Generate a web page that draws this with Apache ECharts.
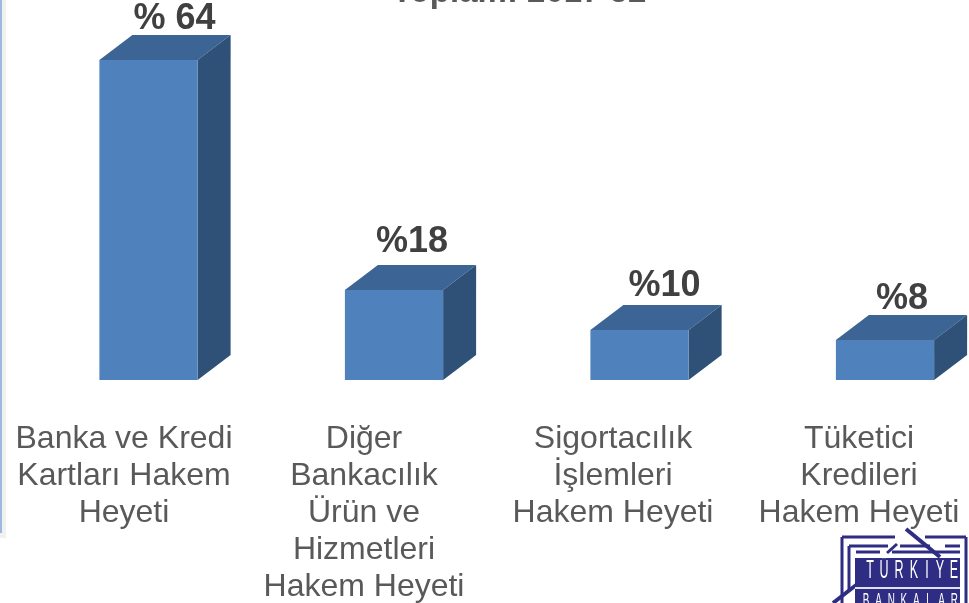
<!DOCTYPE html>
<html>
<head>
<meta charset="utf-8">
<style>html,body{margin:0;padding:0;background:#fff;overflow:hidden}#c{width:969px;height:603px}</style>
<script src="https://cdn.jsdelivr.net/npm/echarts@6/dist/echarts.min.js"></script>
</head>
<body>
<div id="c"></div>
<script>
const categories = ['Banka ve Kredi\nKartları Hakem\nHeyeti', 'Diğer\nBankacılık\nÜrün ve\nHizmetleri\nHakem Heyeti', 'Sigortacılık\nİşlemleri\nHakem Heyeti', 'Tüketici\nKredileri\nHakem Heyeti'];
const shares = [64, 18, 10, 8];
const shareLabels = ['% 64', '%18', '%10', '%8'];
const titleText = 'Toplam: 2017 52';

// Layout only: offsets of each text box relative to its bar
const axisLabelShift = [24.5, 30, 26.5, 26];
const valueLabelShift = [[26, 2], [18, -5], [25, -1], [17, 2]];
const depthX = 33, depthY = 25;

const chart = echarts.init(document.getElementById('c'), null, {renderer: 'canvas'});
const navy = '#2e2d83';

function logo() {
  const line = (x1, y1, x2, y2, w) => ({type: 'line', shape: {x1, y1, x2, y2}, style: {stroke: navy, lineWidth: w}, silent: true});
  const els = [
    line(842, 537, 895, 537, 3), line(925, 537, 966, 537, 3),
    line(842, 537, 842, 603, 3), line(966, 537, 966, 603, 3),
    line(849, 546, 888, 546, 3), line(900, 546, 930, 546, 3), line(945, 546, 960, 546, 3),
    line(849, 546, 849, 590, 3),
    line(856, 552, 880, 552, 3), line(892, 552, 960, 552, 3),
    line(906, 529, 940, 557, 4), line(897, 544, 887, 553, 3),
    line(860, 582, 833, 603, 4),
    {type: 'rect', shape: {x: 855, y: 558, width: 105, height: 45}, style: {fill: navy}, silent: true},
    {type: 'rect', shape: {x: 855, y: 587, width: 105, height: 2}, style: {fill: '#dfe0f0'}, silent: true}
  ];
  const topX = [870, 884, 899, 914, 927, 940, 954];
  'TÜRKİYE'.split('').forEach((ch, i) => els.push({
    type: 'text', x: topX[i], y: 559, scaleX: 0.5, silent: true,
    style: {text: ch, fill: '#fff', font: '25px "Liberation Sans"', textAlign: 'center', textVerticalAlign: 'top'}
  }));
  'BANKALAR'.split('').forEach((ch, i) => els.push({
    type: 'text', x: 866 + i * 12.6, y: 592, scaleX: 0.55, silent: true,
    style: {text: ch, fill: '#fff', font: '18px "Liberation Sans"', textAlign: 'center', textVerticalAlign: 'top'}
  }));
  return els;
}

chart.setOption({
  animation: false,
  backgroundColor: '#fff',
  title: {
    text: titleText, left: 392, top: -24, padding: 0,
    textStyle: {color: '#595959', fontFamily: 'Liberation Sans', fontWeight: 'bold', fontSize: 33}
  },
  grid: {left: 25.75, width: 982, top: 60, height: 320, outerBoundsMode: 'none'},
  xAxis: {
    type: 'category',
    data: categories.map((c, i) => ({value: c, textStyle: {padding: [0, 2 * axisLabelShift[i], 0, 0]}})),
    axisLine: {show: false}, axisTick: {show: false},
    axisLabel: {interval: 0, color: '#595959', fontFamily: 'Liberation Sans', fontSize: 32, lineHeight: 37, margin: 41, hideOverlap: false}
  },
  yAxis: {type: 'value', min: 0, max: 64, show: false, splitLine: {show: false}},
  series: [{
    type: 'custom',
    clip: false,
    data: shares.map((v, i) => [i, v]),
    encode: {x: 0, y: 1},
    renderItem(params, api) {
      const i = api.value(0);
      const base = api.coord([i, 0]);
      const top = api.coord([i, api.value(1)]);
      const w = api.size([1, 0])[0] * 0.4;
      const l = base[0] - w / 2, r = base[0] + w / 2, t = top[1], b = base[1];
      const sh = valueLabelShift[i];
      return {
        type: 'group',
        children: [
          {type: 'polygon', shape: {points: [[l, t], [l + depthX, t - depthY], [r + depthX, t - depthY], [r, t]]}, style: {fill: '#3c6494'}},
          {type: 'polygon', shape: {points: [[r, t], [r + depthX, t - depthY], [r + depthX, b - depthY], [r, b]]}, style: {fill: '#2f5077'}},
          {type: 'rect', shape: {x: l, y: t, width: r - l, height: b - t}, style: {fill: '#4f81bd'}},
          {type: 'text', x: base[0] + sh[0], y: t - depthY + sh[1],
            style: {text: shareLabels[i], fill: '#404040', font: 'bold 36px "Liberation Sans"', textAlign: 'center', textVerticalAlign: 'bottom'}}
        ]
      };
    }
  }],
  graphic: {elements: [
    {type: 'rect', shape: {x: 0, y: 0, width: 6, height: 538}, style: {fill: '#f1f1f1'}, silent: true},
    {type: 'rect', shape: {x: 0, y: 0, width: 2, height: 533}, style: {fill: '#9db9dc'}, silent: true},
    ...logo()
  ]}
});
</script>
</body>
</html>
